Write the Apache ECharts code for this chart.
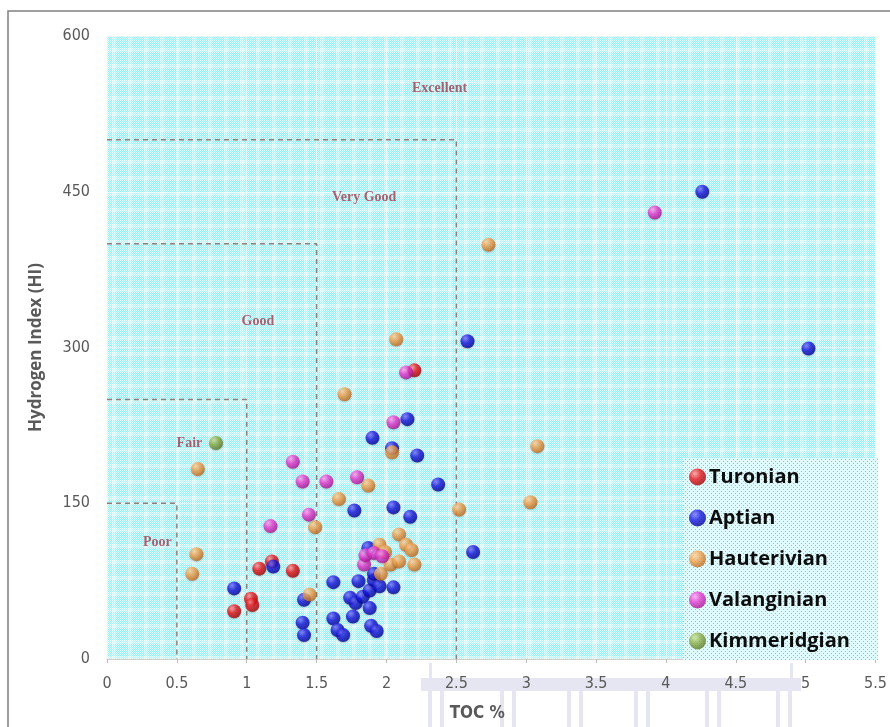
<!DOCTYPE html>
<html>
<head>
<meta charset="utf-8">
<script src="https://cdn.jsdelivr.net/npm/echarts@6/dist/echarts.min.js"></script>
<style>
  html, body { margin: 0; padding: 0; background: #ffffff; }
  #chart { width: 890px; height: 727px; }
</style>
</head>
<body>
<div id="chart"></div>
<script>
// ---- Sample values: TOC (wt %) and Hydrogen Index (mg HC / g TOC) ----
var turonianTOC = [0.91, 1.03, 1.04, 1.09, 1.18, 1.33, 2.20];
var turonianHI  = [46, 58, 52, 87, 94, 85, 278];

var aptianTOC = [0.91, 1.19, 1.41, 1.40, 1.41, 1.62, 1.62, 1.65, 1.69, 1.76, 1.74, 1.78, 1.83,
                 1.80, 1.88, 1.88, 1.91, 1.91, 1.95, 1.89, 1.93, 2.05, 1.87, 1.77, 2.05, 2.17,
                 2.37, 1.90, 2.15, 2.04, 2.22, 2.58, 2.62, 4.26, 5.02];
var aptianHI  = [68, 89, 57, 35, 23, 74, 39, 28, 23, 41, 59, 54, 60,
                 75, 66, 49, 76, 82, 70, 32, 27, 69, 107, 143, 146, 137,
                 168, 213, 231, 203, 196, 306, 103, 450, 299];

var hauterivianTOC = [0.61, 0.64, 0.65, 1.45, 1.49, 1.66, 1.70, 1.87, 1.95, 1.99, 1.96, 2.03,
                      2.09, 2.09, 2.14, 2.18, 2.20, 2.04, 2.07, 2.52, 2.73, 3.03, 3.08];
var hauterivianHI  = [82, 101, 183, 62, 127, 154, 255, 167, 110, 103, 82, 91,
                      120, 94, 110, 105, 91, 199, 308, 144, 399, 151, 205];

var valanginianTOC = [1.17, 1.33, 1.40, 1.445, 1.57, 1.79, 1.84, 1.85, 1.91, 1.97, 2.05, 2.14, 3.92];
var valanginianHI  = [128, 190, 171, 139, 171, 175, 91, 100, 102, 99, 228, 276, 430];

var kimmeridgianTOC = [0.78];
var kimmeridgianHI  = [208];

// Source-rock quality fields (upper TOC bound, upper HI bound)
var fieldTOC = [0.5, 1, 1.5, 2.5];
var fieldHI  = [150, 250, 400, 500];
var fieldNames = ['Poor', 'Fair', 'Good', 'Very Good', 'Excellent'];
var fieldLabelTOC = [0.36, 0.59, 1.08, 1.84, 2.38];
var fieldLabelHI  = [112, 208, 325, 445, 550];

// Axis ticks
var xTicks = ['0', '0.5', '1', '1.5', '2', '2.5', '3', '3.5', '4', '4.5', '5', '5.5'];
var yTicks = ['0', '150', '300', '450', '600'];

function pairs(xs, ys) {
  return xs.map(function (x, i) { return [x, ys[i]]; });
}

// Plaid, dotted cyan fill for the plotting area
function plaidTile() {
  var c = document.createElement('canvas');
  c.width = 16; c.height = 16;
  var g = c.getContext('2d');
  for (var y = 0; y < 16; y++) {
    for (var x = 0; x < 16; x++) {
      var dot = (x + y) % 2 === 0;
      var r = dot ? 226 : 150, gg = dot ? 253 : 238, b = dot ? 254 : 247;
      var stripe = (x < 4 ? 0.3 : 0) + (y < 4 ? 0.3 : 0);
      r = Math.round(r + (255 - r) * stripe);
      gg = Math.round(gg + (255 - gg) * stripe);
      b = Math.round(b + (255 - b) * stripe);
      g.fillStyle = 'rgb(' + r + ',' + gg + ',' + b + ')';
      g.fillRect(x, y, 1, 1);
    }
  }
  return c;
}

// Fine dotted fill for the legend box
function dotTile() {
  var c = document.createElement('canvas');
  c.width = 4; c.height = 4;
  var g = c.getContext('2d');
  g.fillStyle = '#e0fbfd';
  g.fillRect(0, 0, 4, 4);
  g.fillStyle = '#4fd8ea';
  g.fillRect(0, 0, 1, 1);
  g.fillRect(2, 2, 1, 1);
  return c;
}

function sphere(light, base, dark) {
  return new echarts.graphic.RadialGradient(0.35, 0.3, 0.75, [
    { offset: 0, color: light },
    { offset: 0.45, color: base },
    { offset: 1, color: dark }
  ]);
}

var tickFont = "'Liberation Sans Narrow', 'DejaVu Sans Condensed', 'Open Sans', sans-serif";

var chart = echarts.init(document.getElementById('chart'), null, { renderer: 'canvas' });

function scatterSeries(name, xs, ys, fill) {
  return {
    name: name,
    type: 'scatter',
    data: pairs(xs, ys),
    symbolSize: 14,
    itemStyle: { color: fill, shadowBlur: 2, shadowColor: 'rgba(0,0,0,0.25)', shadowOffsetY: 1 },
    z: 5
  };
}

var boundarySeries = fieldTOC.map(function (t, i) {
  return {
    type: 'line',
    data: [[0, fieldHI[i]], [t, fieldHI[i]], [t, 0]],
    symbol: 'none',
    silent: true,
    lineStyle: { color: '#8a817c', width: 1.5, type: [5, 4] },
    z: 3
  };
});

var labelSeries = {
  type: 'scatter',
  silent: true,
  symbolSize: 1,
  itemStyle: { color: 'rgba(0,0,0,0)' },
  data: fieldNames.map(function (n, i) {
    return { name: n, value: [fieldLabelTOC[i], fieldLabelHI[i]] };
  }),
  label: {
    show: true,
    position: 'inside',
    formatter: '{b}',
    color: '#9e3a4a',
    fontFamily: "'Liberation Serif', 'DejaVu Serif', serif",
    fontWeight: 'bold',
    fontSize: 14
  },
  z: 4
};

// Faint portico-shaped watermark along the bottom edge
var wmColor = 'rgba(160,165,205,0.28)';
var watermark = [
  { type: 'rect', shape: { x: 421, y: 678, width: 380, height: 13 }, style: { fill: wmColor } },
  { type: 'rect', shape: { x: 429, y: 663, width: 3, height: 15 }, style: { fill: wmColor } },
  { type: 'rect', shape: { x: 790, y: 663, width: 3, height: 15 }, style: { fill: wmColor } }
];
[428, 500, 567, 634, 705, 776].forEach(function (cx) {
  watermark.push({ type: 'rect', shape: { x: cx, y: 691, width: 4, height: 40 }, style: { fill: wmColor } });
  watermark.push({ type: 'rect', shape: { x: cx + 12, y: 691, width: 4, height: 40 }, style: { fill: wmColor } });
});
watermark.forEach(function (w) { w.z = -1; w.silent = true; });

var option = {
  backgroundColor: '#ffffff',
  animation: false,
  graphic: watermark.concat([
    {
      type: 'rect',
      shape: { x: 8, y: 11, width: 1000, height: 1000 },
      style: { fill: 'none', stroke: '#808080', lineWidth: 1.5 },
      silent: true,
      z: -2
    }
  ]),
  grid: {
    left: 107, top: 36, width: 770, height: 625,
    show: true,
    borderWidth: 0,
    backgroundColor: { image: plaidTile(), repeat: 'repeat' }
  },
  legend: {
    orient: 'vertical',
    left: 683, top: 458,
    data: ['Turonian', 'Aptian', 'Hauterivian', 'Valanginian', 'Kimmeridgian'],
    icon: 'circle',
    itemWidth: 17, itemHeight: 17,
    itemGap: 21,
    padding: [9, 28, 9, 6],
    backgroundColor: { image: dotTile(), repeat: 'repeat' },
    textStyle: {
      color: '#0d0d0d',
      fontFamily: "'Open Sans', Lato, sans-serif",
      fontWeight: 'bold',
      fontSize: 20,
      padding: [0, 0, 0, -2]
    }
  },
  xAxis: {
    type: 'value',
    min: 0, max: 5.5, interval: 0.5,
    name: 'TOC %',
    nameLocation: 'middle',
    nameGap: 46,
    nameTextStyle: { color: '#595959', fontWeight: 'bold', fontSize: 17, fontFamily: tickFont, padding: [0, 28, 0, 0] },
    axisLine: { show: true, lineStyle: { color: '#d0d0d0' } },
    axisTick: { show: true, length: 4, lineStyle: { color: '#bdbdbd' } },
    axisLabel: {
      color: '#595959', fontSize: 16, fontFamily: tickFont, margin: 17,
      formatter: function (v) { return xTicks[Math.round(v / 0.5)]; }
    },
    splitLine: { show: true, lineStyle: { color: 'rgba(255,255,255,0.55)', width: 1 } }
  },
  yAxis: {
    type: 'value',
    min: 0, max: 600, interval: 150,
    name: 'Hydrogen Index (HI)',
    nameLocation: 'middle',
    nameGap: 62,
    nameTextStyle: { color: '#595959', fontWeight: 'bold', fontSize: 17, fontFamily: "'Open Sans', sans-serif" },
    axisLine: { show: false },
    axisTick: { show: false },
    axisLabel: {
      color: '#595959', fontSize: 16, fontFamily: tickFont, margin: 17,
      formatter: function (v) { return yTicks[Math.round(v / 150)]; }
    },
    splitLine: { show: true, lineStyle: { color: 'rgba(255,255,255,0.55)', width: 1 } }
  },
  series: boundarySeries.concat([
    labelSeries,
    scatterSeries('Turonian', turonianTOC, turonianHI, sphere('#ff9a9a', '#e8141b', '#9c0000')),
    scatterSeries('Aptian', aptianTOC, aptianHI, sphere('#7a7aff', '#1818e0', '#00008f')),
    scatterSeries('Hauterivian', hauterivianTOC, hauterivianHI, sphere('#ffd9a6', '#f0a04c', '#b8661c')),
    scatterSeries('Valanginian', valanginianTOC, valanginianHI, sphere('#ffa8f2', '#e63ad2', '#a3108f')),
    scatterSeries('Kimmeridgian', kimmeridgianTOC, kimmeridgianHI, sphere('#cfe69a', '#8cae4a', '#55741f'))
  ])
};

chart.setOption(option);
</script>
</body>
</html>
